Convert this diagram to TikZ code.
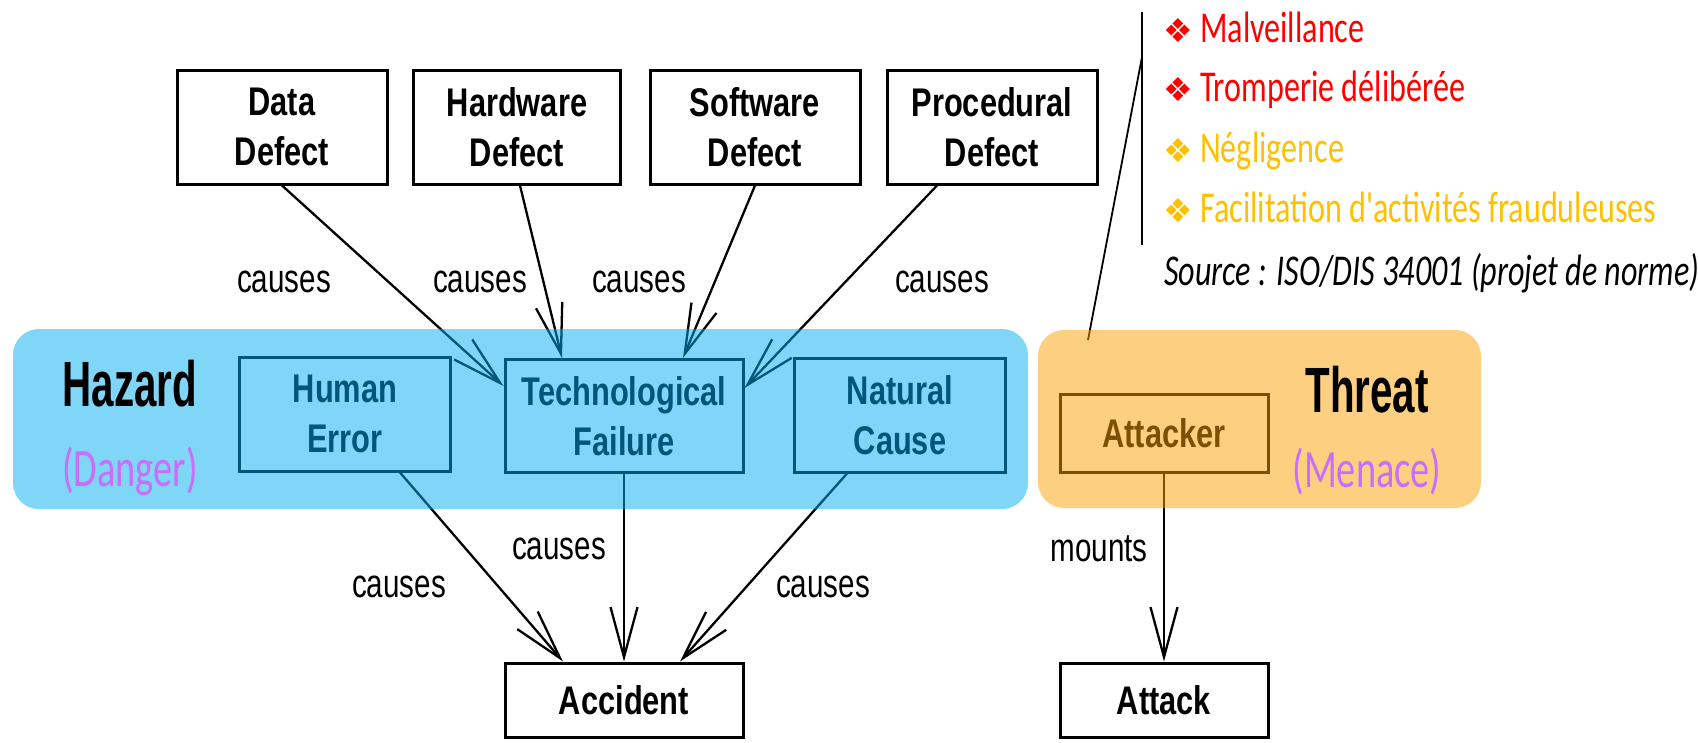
\documentclass[tikz,border=0pt]{standalone}
\usepackage{fontspec}
\usetikzlibrary{arrows.meta}
\newfontfamily\sansN[FakeStretch=0.77]{Liberation Sans}
\newfontfamily\sansL[FakeStretch=0.74]{Liberation Sans}
\newfontfamily\calN[FakeStretch=0.73]{Carlito}
\newfontfamily\calD[FakeStretch=0.71]{Carlito}
\newfontfamily\bigN[FakeStretch=0.63]{Liberation Sans}
\newfontfamily\symf{DejaVu Sans}
\definecolor{hazblue}{RGB}{0,173,239}
\definecolor{throrange}{RGB}{249,161,1}
\definecolor{dangerpurple}{RGB}{200,110,250}
\definecolor{listred}{RGB}{255,0,0}
\definecolor{listgold}{RGB}{255,192,0}
\tikzset{
  boxnode/.style={draw, line width=3pt, align=center, inner sep=0pt,
    font=\sansN\bfseries\fontsize{40}{50}\selectfont},
  conn/.style={line width=2.3pt, -{Straight Barb[length=50pt,width=27pt]}},
  lbl/.style={font=\sansL\fontsize{40}{40}\selectfont, inner sep=0pt},
  bigtitle/.style={font=\bigN\bfseries\fontsize{64}{64}\selectfont, inner sep=0pt},
  subtitle/.style={font=\calD\fontsize{54}{54}\selectfont, text=dangerpurple, inner sep=0pt},
  bul/.style={font=\symf\fontsize{33}{33}\selectfont, inner sep=0pt, anchor=base},
  listtxt/.style={font=\calN\fontsize{44}{44}\selectfont, inner sep=0pt, anchor=base west},
  overlay/.style={fill opacity=0.5, rounded corners=26pt}
}
\begin{document}
\begin{tikzpicture}[x=1pt,y=-1pt]
\useasboundingbox (0,0) rectangle (1698,742);
% top defect boxes
\node[boxnode, minimum width=210pt, minimum height=114pt] (data) at (282,127) {Data\\Defect};
\node[boxnode, minimum width=207pt, minimum height=114pt] (hard) at (517,127) {Hardware\\Defect};
\node[boxnode, minimum width=210pt, minimum height=114pt] (soft) at (755,127) {Software\\Defect};
\node[boxnode, minimum width=210pt, minimum height=114pt] (proc) at (992,127) {Procedural\\Defect};
% hazard boxes
\node[boxnode, minimum width=211pt, minimum height=114pt] (human) at (345,414) {Human\\Error};
\node[boxnode, minimum width=238pt, minimum height=113pt] (tech) at (624,416) {Technological\\Failure};
\node[boxnode, minimum width=211pt, minimum height=114pt] (nat) at (900,415) {Natural\\Cause};
\node[boxnode, minimum width=208pt, minimum height=78pt] (attacker) at (1164,433) {Attacker};
% bottom boxes
\node[boxnode, minimum width=238pt, minimum height=74pt] (acc) at (624,700) {Accident};
\node[boxnode, minimum width=208pt, minimum height=74pt] (attack) at (1164,700) {Attack};
% connectors
\draw[conn] (data.south) -- ([yshift=30pt]tech.west);
\draw[conn] ([xshift=3pt]hard.south) -- ([xshift=-62pt]tech.north);
\draw[conn] (soft.south) -- ([xshift=59pt]tech.north);
\draw[conn] ([xshift=-55pt]proc.south) -- ([yshift=28pt]tech.east);
\draw[conn] ([xshift=55pt]human.south) -- ([xshift=-61pt]acc.north);
\draw[conn] (tech.south) -- (acc.north);
\draw[conn] ([xshift=-53pt]nat.south) -- ([xshift=56pt]acc.north);
\draw[conn] (attacker.south) -- (attack.north);
% labels
\node[lbl] (l1) at (284,282) {causes};
\node[lbl] (l2) at (480,282) {causes};
\node[lbl] (l3) at (639,282) {causes};
\node[lbl] (l4) at (942,282) {causes};
\node[lbl] (l5) at (399,587) {causes};
\node[lbl] (l6) at (559,549) {causes};
\node[lbl] (l7) at (823,587) {causes};
\node[lbl] (l8) at (1099,549) {mounts};
% callout lines
\coordinate (vtop) at (1142,12);
\coordinate (vbot) at (1142,245);
\coordinate (dtop) at (1142,57);
\coordinate (dbot) at (1088,340);
\draw[line width=1.8pt] (vtop) -- (vbot);
\draw[line width=1.8pt] (dtop) -- (dbot);
% overlays
\fill[hazblue, overlay] (13,329) rectangle (1028,509);
\fill[throrange, overlay] (1038,330) rectangle (1481,508);
% titles
\node[bigtitle] (hz) at (130,384) {Hazard};
\node[subtitle] (dg) at (130,471) {(Danger)};
\node[bigtitle] (th) at (1367,390) {Threat};
\node[subtitle] (mn) at (1367,471) {(Menace)};
% list
\node[bul, text=listred] (b1) at (1178,42) {❖};
\node[listtxt, text=listred] (t1) at (1200,42) {Malveillance};
\node[bul, text=listred] (b2) at (1178,101) {❖};
\node[listtxt, text=listred] (t2) at (1200,101) {Tromperie délibérée};
\node[bul, text=listgold] (b3) at (1178,162) {❖};
\node[listtxt, text=listgold] (t3) at (1200,162) {Négligence};
\node[bul, text=listgold] (b4) at (1178,222) {❖};
\node[listtxt, text=listgold] (t4) at (1200,222) {Facilitation d'activités frauduleuses};
\node[listtxt] (src) at (1164,285) {\itshape Source : ISO/DIS 34001 (projet de norme)};
\end{tikzpicture}
\end{document}
